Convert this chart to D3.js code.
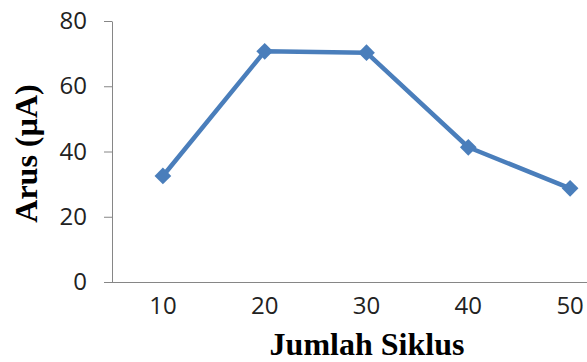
<!DOCTYPE html>
<html>
<head>
<meta charset="utf-8">
<script src="https://cdn.jsdelivr.net/npm/d3@7"></script>
<style>
  html, body { margin: 0; padding: 0; background: #fff; overflow: hidden; }
  svg { display: block; }
</style>
</head>
<body>
<svg id="chart" width="587" height="362"></svg>
<script>
// Current response per number of cycles
const cycles = ["10", "20", "30", "40", "50"];
const current = [32.5, 70.7, 70.3, 41.3, 28.7];
const yTicks = [0, 20, 40, 60, 80];

const W = 587, H = 362;
const plot = { left: 112, right: 621, top: 21, bottom: 282 };
const lineColor = "#4A7EBB";
const axisColor = "#868686";
const tickFont = "'Open Sans', 'Noto Sans', sans-serif";
const titleFont = "'Liberation Serif', 'Times New Roman', serif";

const svg = d3.select("#chart");

const x = d3.scaleBand().domain(cycles).range([plot.left, plot.right]).padding(0);
const y = d3.scaleLinear().domain([0, 80]).range([plot.bottom, plot.top]);
const cx = d => x(d) + x.bandwidth() / 2;

// Y axis
const yAxis = svg.append("g")
  .attr("transform", `translate(${plot.left},0)`)
  .call(d3.axisLeft(y).tickValues(yTicks).tickSize(8).tickPadding(17).tickSizeOuter(0));
yAxis.select(".domain").attr("stroke", axisColor);
yAxis.selectAll(".tick line").attr("stroke", axisColor);
yAxis.selectAll(".tick text")
  .attr("fill", "#222")
  .style("font-family", tickFont)
  .style("font-size", "24px");

// X axis: baseline only, labels centred under each category
const xAxis = svg.append("g")
  .attr("transform", `translate(0,${plot.bottom})`)
  .call(d3.axisBottom(x).tickSize(0).tickPadding(15));
xAxis.select(".domain").remove();
xAxis.selectAll(".tick text")
  .attr("fill", "#222")
  .style("font-family", tickFont)
  .style("font-size", "24px");
svg.append("line")
  .attr("x1", plot.left - 8).attr("x2", W)
  .attr("y1", y(0) + 0.5).attr("y2", y(0) + 0.5)
  .attr("stroke", axisColor);

// Series line
const line = d3.line().x((d, i) => cx(cycles[i])).y(d => y(d));
svg.append("path")
  .datum(current)
  .attr("d", line)
  .attr("fill", "none")
  .attr("stroke", lineColor)
  .attr("stroke-width", 4.5)
  .attr("stroke-linejoin", "round");

// Diamond markers
const diamond = d3.symbol().type(d3.symbolSquare).size(140);
svg.append("g").selectAll("path")
  .data(current)
  .join("path")
  .attr("d", diamond)
  .attr("transform", (d, i) => `translate(${cx(cycles[i])},${y(d)}) rotate(45)`)
  .attr("fill", lineColor);

// Axis titles
svg.append("text")
  .attr("transform", `translate(37,${(83 + 224) / 2}) rotate(-90)`)
  .attr("text-anchor", "middle")
  .style("font-family", titleFont)
  .style("font-weight", "bold")
  .style("font-size", "32px")
  .attr("fill", "#000")
  .text("Arus (µA)");

svg.append("text")
  .attr("x", 367)
  .attr("y", 355)
  .attr("text-anchor", "middle")
  .style("font-family", titleFont)
  .style("font-weight", "bold")
  .style("font-size", "32px")
  .attr("fill", "#000")
  .text("Jumlah Siklus");
</script>
</body>
</html>
